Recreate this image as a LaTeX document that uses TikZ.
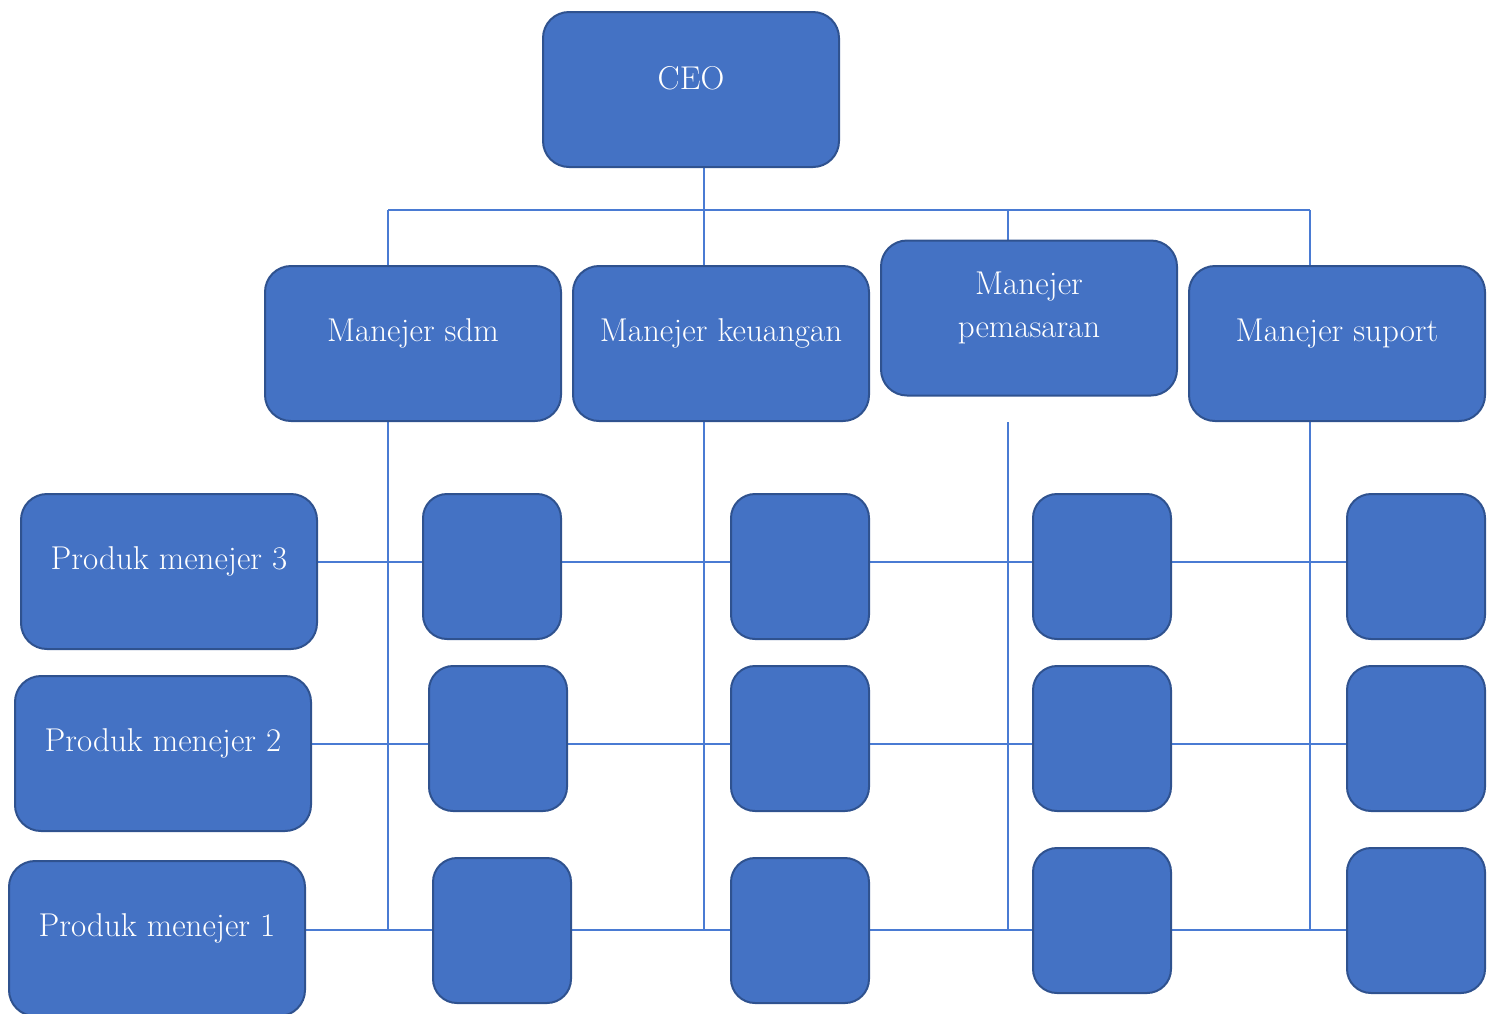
\documentclass[tikz,border=0pt]{standalone}
\usetikzlibrary{backgrounds}
\definecolor{boxfill}{HTML}{4472C4}
\definecolor{boxline}{HTML}{2F528F}
\definecolor{wire}{HTML}{4A7BD3}
\tikzset{
  bigbox/.style={rectangle, rounded corners=26pt, fill=boxfill, draw=boxline, line width=2pt,
    minimum width=296pt, minimum height=155pt, inner sep=0pt},
  smallbox/.style={rectangle, rounded corners=24pt, fill=boxfill, draw=boxline, line width=2pt,
    minimum width=138pt, minimum height=145pt, inner sep=0pt},
  lbl/.style={text=white, font=\fontsize{33}{43}\selectfont, align=center, inner sep=0pt},
  wireline/.style={draw=wire, line width=1.2pt}
}
\begin{document}
\begin{tikzpicture}[x=1pt,y=-1pt]
\useasboundingbox (0,0) rectangle (1487,1013);
% level 1 and 2
\node[bigbox] (ceo) at (691,89.5) {};
\node[bigbox] (sdm) at (413,343.5) {};
\node[bigbox] (keu) at (721,343.5) {};
\node[bigbox] (pem) at (1029,318) {};
\node[bigbox] (sup) at (1337,343.5) {};
% product managers
\node[bigbox] (pm3) at (169,571.5) {};
\node[bigbox] (pm2) at (163,753.5) {};
\node[bigbox] (pm1) at (157,938.5) {};
% small boxes
\node[smallbox] (s31) at (492,566.5) {};
\node[smallbox] (s32) at (800,566.5) {};
\node[smallbox] (s33) at (1102,566.5) {};
\node[smallbox] (s34) at (1416,566.5) {};
\node[smallbox] (s21) at (498,738.5) {};
\node[smallbox] (s22) at (800,738.5) {};
\node[smallbox] (s23) at (1102,738.5) {};
\node[smallbox] (s24) at (1416,738.5) {};
\node[smallbox] (s11) at (502,930.5) {};
\node[smallbox] (s12) at (800,930.5) {};
\node[smallbox] (s13) at (1102,920.5) {};
\node[smallbox] (s14) at (1416,920.5) {};
% labels
\node[lbl] (ceo-t) at ([yshift=11pt]ceo.center) {CEO};
\node[lbl] (sdm-t) at ([yshift=10pt]sdm.center) {Manejer sdm};
\node[lbl] (keu-t) at ([yshift=10pt]keu.center) {Manejer keuangan};
\node[lbl] (pem-t) at ([yshift=10pt]pem.center) {Manejer\\pemasaran};
\node[lbl] (sup-t) at ([yshift=10pt]sup.center) {Manejer suport};
\node[lbl] (pm3-t) at ([yshift=10pt]pm3.center) {Produk menejer 3};
\node[lbl] (pm2-t) at ([yshift=10pt]pm2.center) {Produk menejer 2};
\node[lbl] (pm1-t) at ([yshift=10pt]pm1.center) {Produk menejer 1};
% junction coordinates
\coordinate (busl) at (388,210);
\coordinate (busm) at (704,210);
\coordinate (busp) at (1008,210);
\coordinate (busr) at (1310,210);
\coordinate (c1) at (388,422);
\coordinate (c2) at (704,422);
\coordinate (c3) at (1008,422);
\coordinate (c4) at (1310,422);
\coordinate (r3) at (0,562);
\coordinate (r2) at (0,744);
\coordinate (r1) at (0,930);
\begin{scope}[on background layer]
  \draw[wireline] (ceo.south -| busm) -- (busm);
  \draw[wireline] (busl) -- (busr);
  \draw[wireline] (busl) -- (sdm.north -| busl);
  \draw[wireline] (busm) -- (keu.north -| busm);
  \draw[wireline] (busp) -- (pem.north -| busp);
  \draw[wireline] (busr) -- (sup.north -| busr);
  \draw[wireline] (c1) -- (c1 |- r1);
  \draw[wireline] (c2) -- (c2 |- r1);
  \draw[wireline] (c3) -- (c3 |- r1);
  \draw[wireline] (c4) -- (c4 |- r1);
  \draw[wireline] (pm3.east |- r3) -- (s34.west |- r3);
  \draw[wireline] (pm2.east |- r2) -- (s24.west |- r2);
  \draw[wireline] (pm1.east |- r1) -- (s14.west |- r1);
\end{scope}
\end{tikzpicture}
\end{document}
